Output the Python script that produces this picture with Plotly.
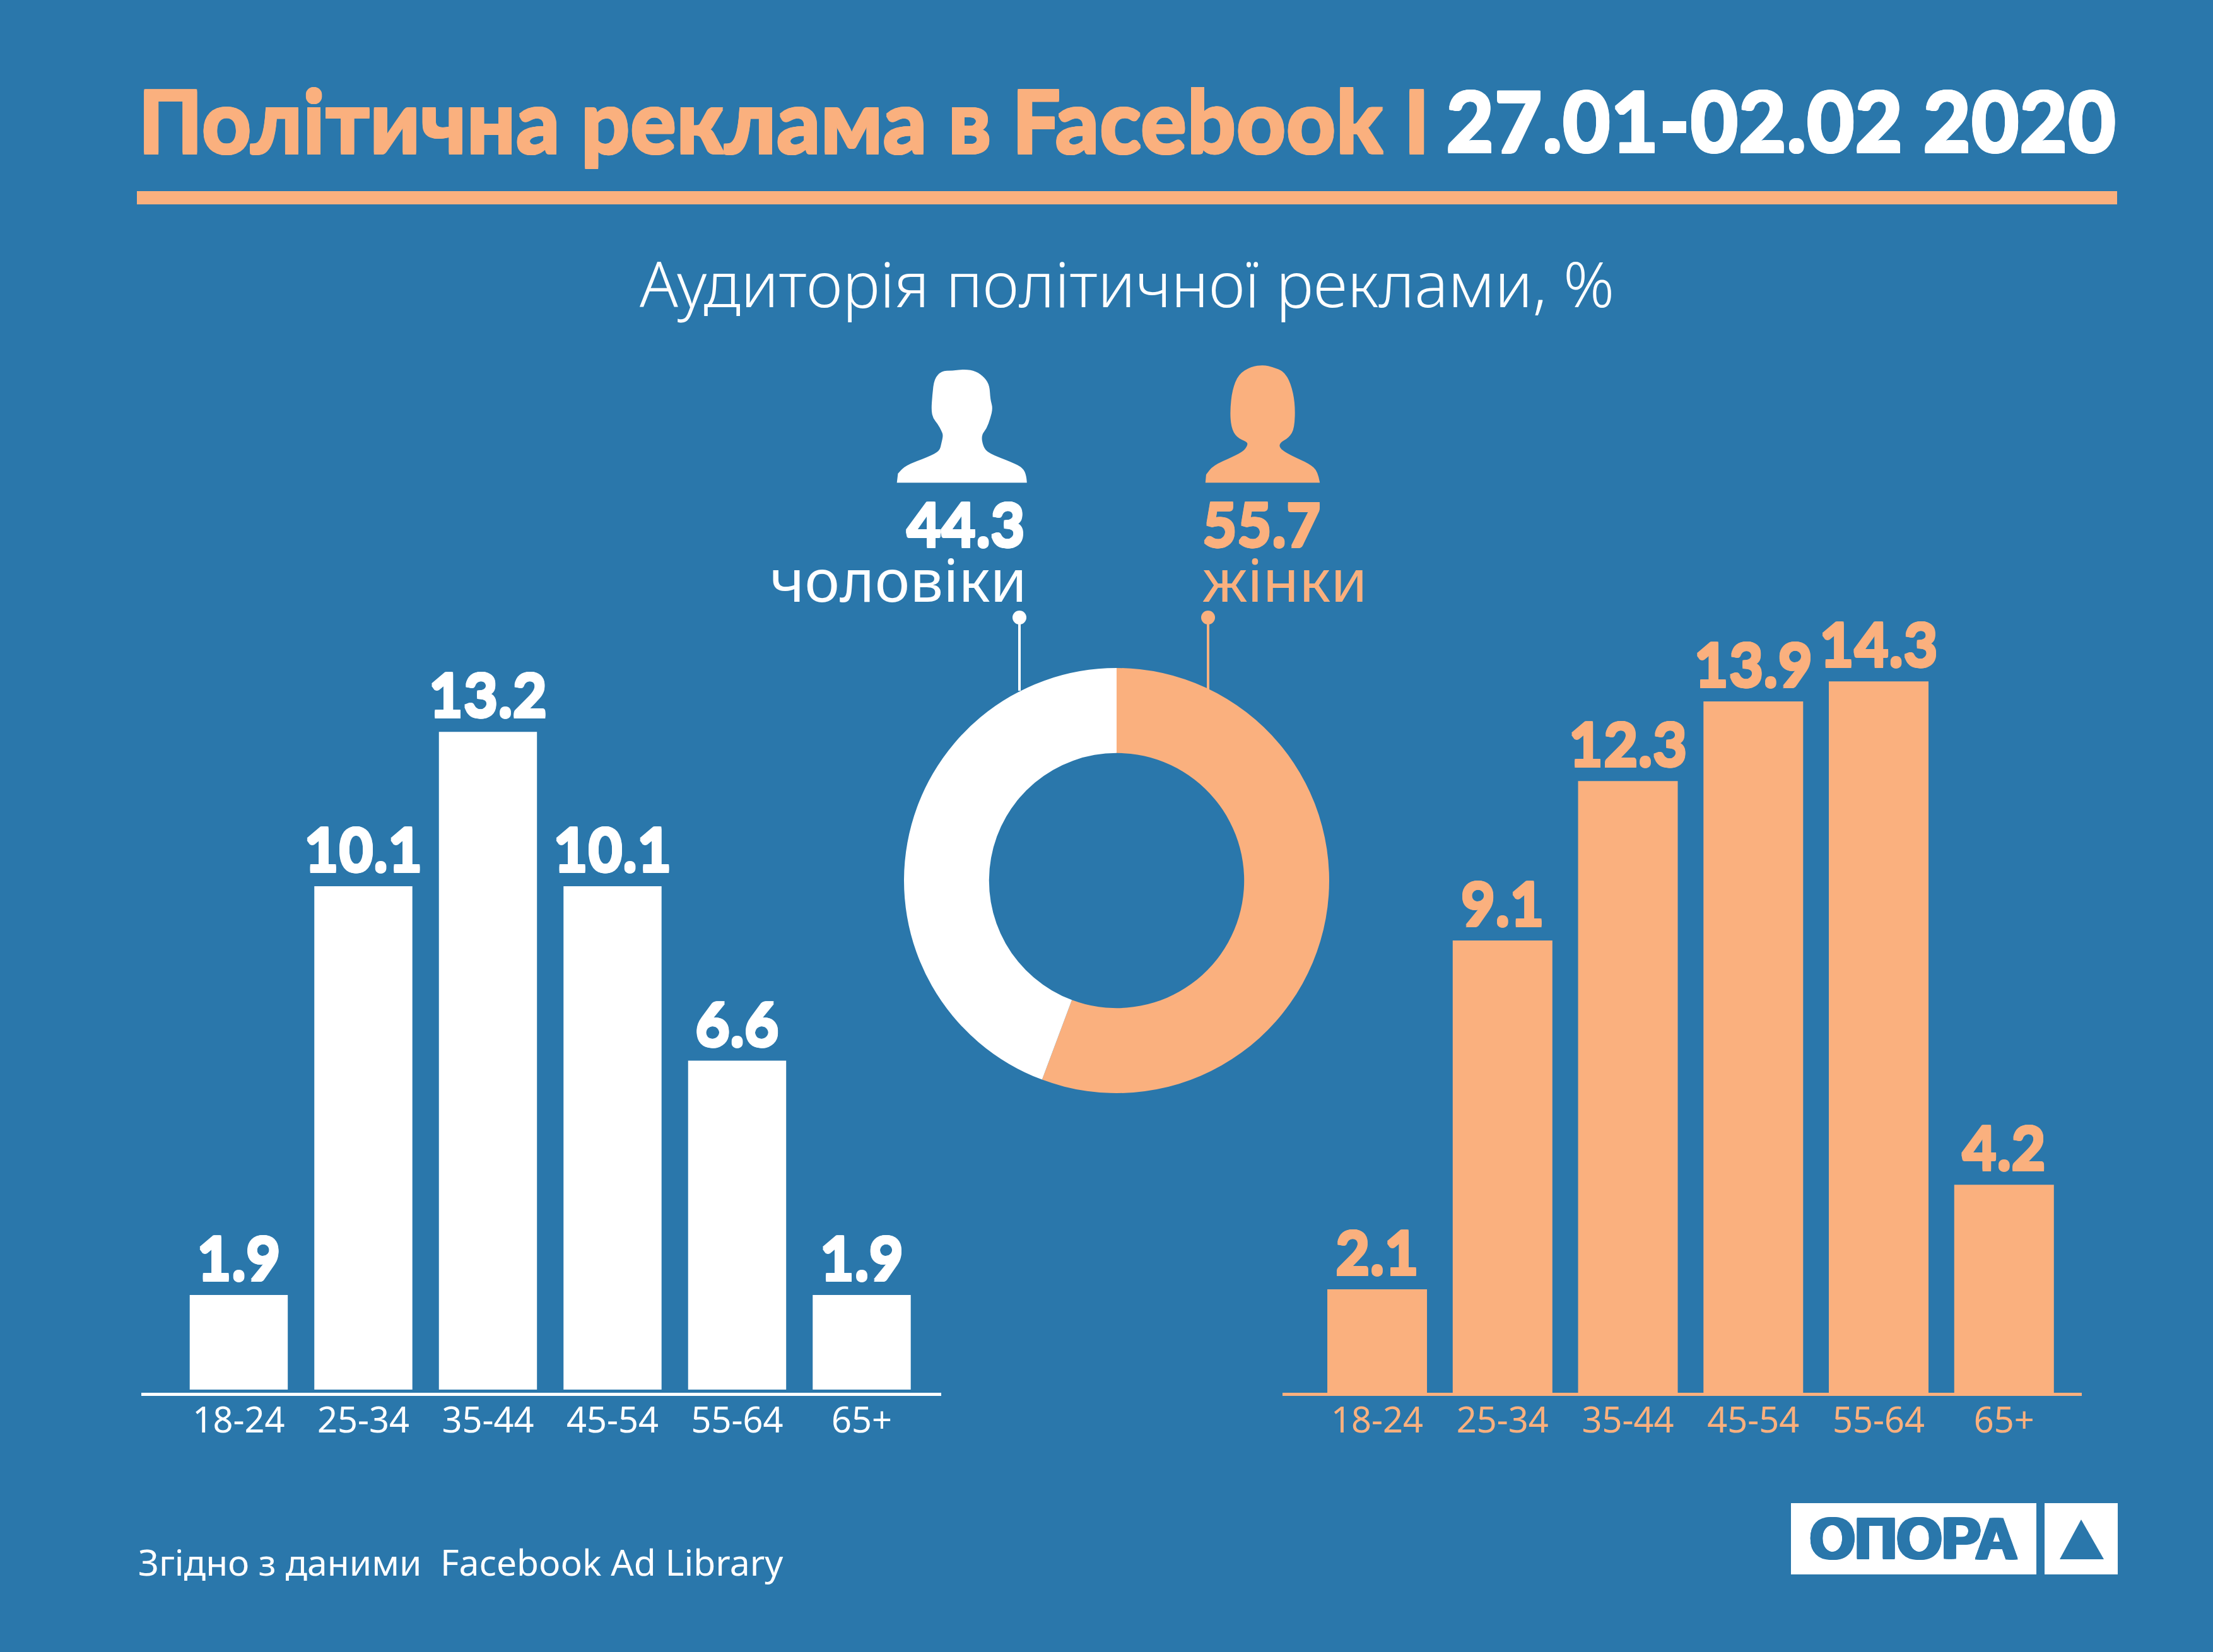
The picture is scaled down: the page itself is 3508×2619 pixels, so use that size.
import plotly.graph_objects as go

W, H = 3508, 2619
BG = "#2a77ab"
ORANGE = "#fab07e"
WHITE = "#ffffff"
FONT = "Noto Sans"
HEAVY = "Lato"
# text-shadow to get a blacker weight than the installed fonts have


def thick(color, dx=1, dy=2):
    return (f"{dx}px 0 0 {color}, -{dx}px 0 0 {color}, 0 {dy}px 0 {color}, 0 -{dy}px 0 {color}, "
            f"{dx}px {dy}px 0 {color}, -{dx}px -{dy}px 0 {color}, {dx}px -{dy}px 0 {color}, -{dx}px {dy}px 0 {color}")


# Data
ages = ["18-24", "25-34", "35-44", "45-54", "55-64", "65+"]
men = [1.9, 10.1, 13.2, 10.1, 6.6, 1.9]
women = [2.1, 9.1, 12.3, 13.9, 14.3, 4.2]
gender_labels = ["жінки", "чоловіки"]
gender_values = [55.7, 44.3]

# silhouettes (pixel coordinates of a zoomed crop)
man_outline = [(212, 631), (215, 590), (235, 555), (300, 515), (330, 490), (335, 455), (340, 420),
               (335, 400), (325, 370), (312, 345), (307, 310), (310, 240), (315, 170), (335, 135),
               (365, 133), (400, 127), (430, 135), (455, 165), (468, 200), (470, 260), (477, 300),
               (470, 345), (460, 390), (445, 420), (450, 470), (465, 500), (530, 540), (560, 565),
               (570, 600), (571, 631)]
woman_outline = [(1064, 631), (1066, 595), (1085, 555), (1140, 515), (1170, 490), (1180, 465),
                 (1180, 450), (1150, 430), (1135, 385), (1132, 310), (1138, 220), (1155, 150),
                 (1190, 115), (1225, 108), (1250, 118), (1280, 135), (1300, 190), (1312, 280),
                 (1310, 390), (1295, 430), (1268, 455), (1270, 480), (1300, 510), (1350, 545),
                 (1375, 580), (1380, 631)]


def px(x):
    return x / W


def py(y):
    return 1 - y / H


def crop_to_path(points):
    # crop was 900x560 at (1300,540), scaled to 1568x1568
    pts = [(px(1300 + x / 1.742), py(540 + y / 2.8)) for x, y in points]
    path = f"M {pts[0][0]},{pts[0][1]} L {pts[1][0]},{pts[1][1]}"
    for i in range(1, len(pts) - 2):
        mx = (pts[i][0] + pts[i + 1][0]) / 2
        my = (pts[i][1] + pts[i + 1][1]) / 2
        path += f" Q {pts[i][0]},{pts[i][1]} {mx},{my}"
    path += f" Q {pts[-2][0]},{pts[-2][1]} {pts[-1][0]},{pts[-1][1]} Z"
    return path


def label(x, y, text, size, color=WHITE, anchor="left", weight=400, family=FONT, shadow=None):
    font = dict(size=size, color=color, family=family, weight=weight)
    if shadow:
        font["shadow"] = shadow
    return dict(x=px(x), y=py(y), xref="paper", yref="paper", text=text, showarrow=False,
                xanchor=anchor, yanchor="middle", align=anchor, font=font)


def rect(x0, y0, x1, y1, color):
    return dict(type="rect", xref="paper", yref="paper", x0=px(x0), x1=px(x1), y0=py(y1), y1=py(y0),
                fillcolor=color, line_width=0, layer="above")


def dot(cx, cy, r, color):
    return dict(type="circle", xref="paper", yref="paper", x0=px(cx - r), x1=px(cx + r),
                y0=py(cy + r), y1=py(cy - r), fillcolor=color, line_width=0, layer="above")


def stem(x, y0, y1, color):
    return dict(type="line", xref="paper", yref="paper", x0=px(x), x1=px(x), y0=py(y0), y1=py(y1),
                line=dict(color=color, width=4), layer="below")


fig = go.Figure()

fig.add_trace(go.Bar(x=ages, y=men, marker_color=WHITE, marker_line_width=0, text=[str(v) for v in men],
                     textposition="outside", cliponaxis=False, constraintext="none",
                     textfont=dict(size=95, color=WHITE, family=HEAVY, weight=900, shadow=thick(WHITE)),
                     xaxis="x", yaxis="y", width=0.787))
fig.add_trace(go.Bar(x=ages, y=women, marker_color=ORANGE, marker_line_width=0, text=[str(v) for v in women],
                     textposition="outside", cliponaxis=False, constraintext="none",
                     textfont=dict(size=95, color=ORANGE, family=HEAVY, weight=900, shadow=thick(ORANGE)),
                     xaxis="x2", yaxis="y2", width=0.795))

fig.add_trace(go.Pie(values=gender_values, labels=gender_labels, hole=0.6, sort=False,
                     direction="clockwise", rotation=0, textinfo="none",
                     marker=dict(colors=[ORANGE, WHITE], line_width=0),
                     domain=dict(x=[px(1770 - 337), px(1770 + 337)], y=[py(1396 + 337), py(1396 - 337)])))


def x_axis(x0, x1, rng, color, line_y):
    return dict(domain=[px(x0), px(x1)], range=rng, anchor="free", position=py(line_y), showgrid=False,
                zeroline=False, showline=True, linecolor=color, linewidth=5, ticks="", ticklabelstandoff=-9,
                tickfont=dict(size=56, color=color, family=FONT))


def y_axis(y_base, anchor):
    return dict(domain=[py(y_base), py(y_base - 79 * 16)], range=[0, 16], anchor=anchor, visible=False,
                showgrid=False, zeroline=False)


annotations = [
    label(217, 190, "Політична реклама в Facebook І", 137, ORANGE, weight=900, family=HEAVY, shadow=thick(ORANGE, 1, 2)),
    label(3356, 190, "27.01-02.02 2020", 132, WHITE, anchor="right", weight=900, family=HEAVY, shadow=thick(WHITE, 1, 2)),
    label(1786, 448, "Аудиторія політичної реклами, %", 100, WHITE, anchor="center", weight=300),
    label(1627, 830, "44.3", 95, WHITE, anchor="right", weight=900, family=HEAVY, shadow=thick(WHITE)),
    label(1904, 830, "55.7", 95, ORANGE, weight=900, family=HEAVY, shadow=thick(ORANGE)),
    label(1630, 918, "чоловіки", 94, WHITE, anchor="right"),
    label(1904, 918, "жінки", 94, ORANGE),
    label(217, 2476, "Згідно з даними  Facebook Ad Library", 57, WHITE),
    label(3033, 2439, "ОПОРА", 92, BG, anchor="center", weight=700, family="Liberation Sans", shadow=thick(BG, 3, 1)),
]

shapes = [
    rect(217, 303, 3356, 324, ORANGE),
    dict(type="path", xref="paper", yref="paper", path=crop_to_path(man_outline), fillcolor=WHITE, line_width=0),
    dict(type="path", xref="paper", yref="paper", path=crop_to_path(woman_outline), fillcolor=ORANGE, line_width=0),
    stem(1616, 979, 1095, WHITE),
    stem(1915, 979, 1095, ORANGE),
    dot(1616, 979, 11, WHITE),
    dot(1915, 979, 11, ORANGE),
    rect(2839, 2383, 3228, 2496, WHITE),
    rect(3241, 2383, 3357, 2496, WHITE),
    dict(type="path", xref="paper", yref="paper", fillcolor=BG, line_width=0,
         path=f"M {px(3299)},{py(2409)} L {px(3335)},{py(2472)} L {px(3265)},{py(2472)} Z"),
]

fig.update_layout(
    width=W, height=H, margin=dict(l=0, r=0, t=0, b=0), autosize=False, showlegend=False,
    paper_bgcolor=BG, plot_bgcolor="rgba(0,0,0,0)",
    xaxis=x_axis(224, 1492, [-0.782, 5.638], WHITE, 2210),
    yaxis=y_axis(2203, "x"),
    xaxis2=x_axis(2033, 3300, [-0.755, 5.62], ORANGE, 2210),
    yaxis2=y_axis(2210, "x2"),
    annotations=annotations, shapes=shapes,
)

# no white page border round the figure
fig.write_html("out.html", config=dict(displayModeBar=False), post_script="document.body.style.margin = '0';")
